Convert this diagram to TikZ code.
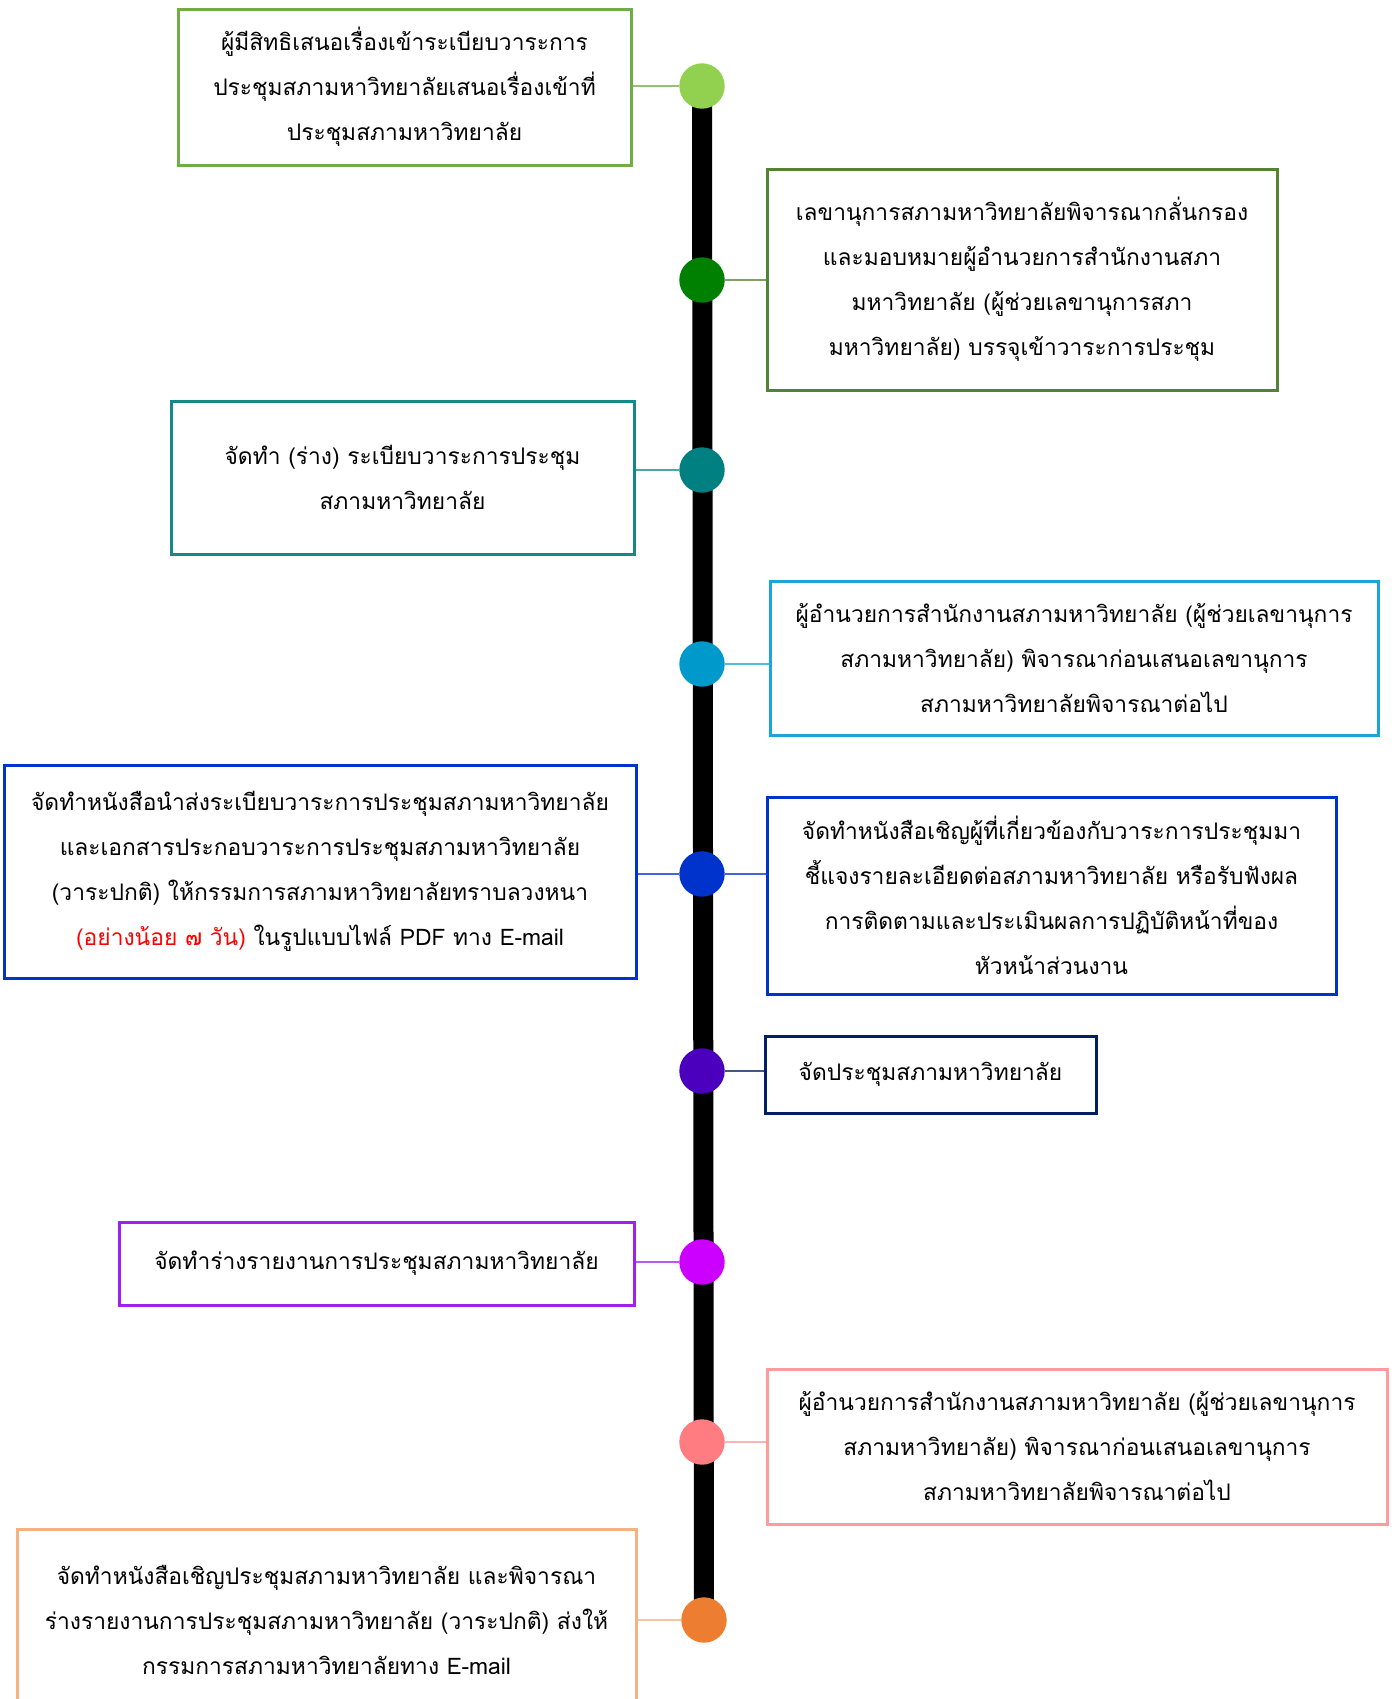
\documentclass[tikz,border=0pt]{standalone}
\usepackage{fontspec}
\setmainfont[Script=Thai]{Loma}
\usetikzlibrary{backgrounds}
\definecolor{gA}{HTML}{92D050}
\definecolor{gB}{HTML}{008000}
\definecolor{gC}{HTML}{008080}
\definecolor{gD}{HTML}{0099CC}
\definecolor{gE}{HTML}{0033CC}
\definecolor{gF}{HTML}{4B00BE}
\definecolor{gG}{HTML}{CC00FF}
\definecolor{gH}{HTML}{FF7C80}
\definecolor{gI}{HTML}{ED7D31}
\definecolor{bA}{HTML}{70AD47}
\definecolor{bB}{HTML}{548235}
\definecolor{bC}{HTML}{138A87}
\definecolor{bD}{HTML}{1CA5D8}
\definecolor{bE}{HTML}{0033CC}
\definecolor{bF}{HTML}{002060}
\definecolor{bG}{HTML}{A020F0}
\definecolor{bH}{HTML}{FF9B9B}
\definecolor{bI}{HTML}{F4B183}
\tikzset{stepbox/.style={draw=#1, line width=1.5pt, fill=white, align=center, inner sep=0pt,
                         font=\fontsize{11.4}{22.5}\selectfont},
         dot/.style={circle, fill=#1, minimum size=22.7pt, inner sep=0pt},
         link/.style={draw=#1!75, line width=1pt},
         spine/.style={line width=10pt, black}}

\begin{document}
\begin{tikzpicture}[x=0.5pt,y=-0.5pt]
   \useasboundingbox (0,0) rectangle (1395,1699);
   % the dots on the time line
   \node[dot=gA] (a) at (702,  86) {};
   \node[dot=gB] (b) at (702, 280) {};
   \node[dot=gC] (c) at (702, 470) {};
   \node[dot=gD] (d) at (702, 664) {};
   \node[dot=gE] (e) at (702, 874) {};
   \node[dot=gF] (f) at (702,1071) {};
   \node[dot=gG] (g) at (702,1262) {};
   \node[dot=gH] (h) at (702,1442) {};
   \node[dot=gI] (i) at (704,1620) {};
   \begin{scope}[on background layer]
    \draw[spine] (a.center) -- (i.center);
   \end{scope}
   % the boxes
   \node[stepbox=bA, minimum width=226.5pt, minimum height=78pt] (A) at (404.5,87)
     {ผู้มีสิทธิเสนอเรื่องเข้าระเบียบวาระการ\\ประชุมสภามหาวิทยาลัยเสนอเรื่องเข้าที่\\ประชุมสภามหาวิทยาลัย};
   \node[stepbox=bB, minimum width=255pt, minimum height=110.5pt] (B) at (1022,279.5)
     {เลขานุการสภามหาวิทยาลัยพิจารณากลั่นกรอง\\และมอบหมายผู้อำนวยการสำนักงานสภา\\มหาวิทยาลัย (ผู้ช่วยเลขานุการสภา\\มหาวิทยาลัย) บรรจุเข้าวาระการประชุม};
   \node[stepbox=bC, minimum width=231.5pt, minimum height=76.5pt] (C) at (402.5,477.5)
     {จัดทำ (ร่าง) ระเบียบวาระการประชุม\\สภามหาวิทยาลัย};
   \node[stepbox=bD, minimum width=304pt, minimum height=77pt] (D) at (1074,658)
     {ผู้อำนวยการสำนักงานสภามหาวิทยาลัย (ผู้ช่วยเลขานุการ\\สภามหาวิทยาลัย) พิจารณาก่อนเสนอเลขานุการ\\สภามหาวิทยาลัยพิจารณาต่อไป};
   \node[stepbox=bE, minimum width=316pt, minimum height=106.5pt] (E) at (320,871.5)
     {จัดทำหนังสือนำส่งระเบียบวาระการประชุมสภามหาวิทยาลัย\\และเอกสารประกอบวาระการประชุมสภามหาวิทยาลัย\\(วาระปกติ) ให้กรรมการสภามหาวิทยาลัยทราบลวงหนา\\\textcolor{red}{(อย่างน้อย ๗ วัน)} ในรูปแบบไฟล์ PDF ทาง E-mail};
   \node[stepbox=bE, minimum width=284.5pt, minimum height=98.5pt] (F) at (1051.5,895.5)
     {จัดทำหนังสือเชิญผู้ที่เกี่ยวข้องกับวาระการประชุมมา\\ชี้แจงรายละเอียดต่อสภามหาวิทยาลัย หรือรับฟังผล\\การติดตามและประเมินผลการปฏิบัติหน้าที่ของ\\หัวหน้าส่วนงาน};
   \node[stepbox=bF, minimum width=165.5pt, minimum height=38.5pt] (G) at (930.5,1074.5)
     {จัดประชุมสภามหาวิทยาลัย};
   \node[stepbox=bG, minimum width=257.5pt, minimum height=41.5pt] (H) at (376.5,1263.5)
     {จัดทำร่างรายงานการประชุมสภามหาวิทยาลัย};
   \node[stepbox=bH, minimum width=310pt, minimum height=77.5pt] (I) at (1077,1446.5)
     {ผู้อำนวยการสำนักงานสภามหาวิทยาลัย (ผู้ช่วยเลขานุการ\\สภามหาวิทยาลัย) พิจารณาก่อนเสนอเลขานุการ\\สภามหาวิทยาลัยพิจารณาต่อไป};
   \node[stepbox=bI, minimum width=309.5pt, minimum height=91pt] (J) at (326.5,1620)
     {จัดทำหนังสือเชิญประชุมสภามหาวิทยาลัย และพิจารณา\\ร่างรายงานการประชุมสภามหาวิทยาลัย (วาระปกติ) ส่งให้\\กรรมการสภามหาวิทยาลัยทาง E-mail};
   % connectors
   \draw[link=bA] (A.east |- a) -- (a);
   \draw[link=bB] (B.west |- b) -- (b);
   \draw[link=bC] (C.east |- c) -- (c);
   \draw[link=bD] (D.west |- d) -- (d);
   \draw[link=bE] (E.east |- e) -- (e);
   \draw[link=bE] (F.west |- e) -- (e);
   \draw[link=bF] (G.west |- f) -- (f);
   \draw[link=bG] (H.east |- g) -- (g);
   \draw[link=bH] (I.west |- h) -- (h);
   \draw[link=bI] (J.east |- i) -- (i);
  \end{tikzpicture}
\end{document}
